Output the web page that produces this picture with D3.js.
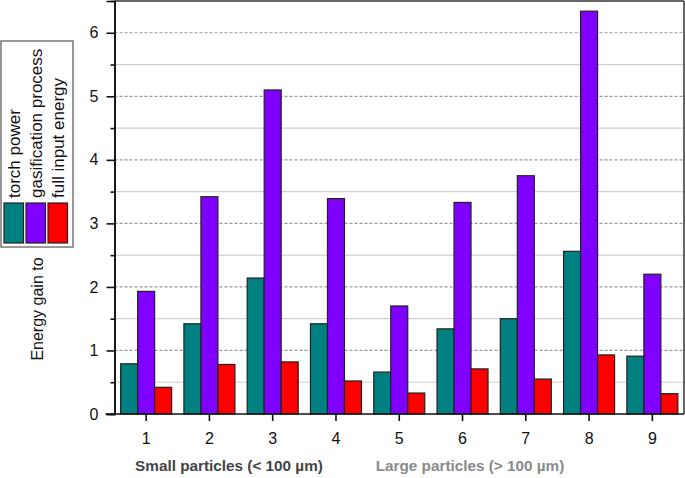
<!DOCTYPE html>
<html><head><meta charset="utf-8">
<script src="https://cdn.jsdelivr.net/npm/d3@7"></script>
<style>
html,body{margin:0;padding:0;background:#fff;}
svg{display:block;font-family:"Liberation Sans",Arial,sans-serif;}
</style></head>
<body>
<svg id="c" width="685" height="478"></svg>
<script>
const categories = ["1","2","3","4","5","6","7","8","9"];
const seriesNames = ["torch power","gasification process","full input energy"];
const seriesColors = ["#008080","#8000FF","#FF0000"];
const torchPower = [0.79,1.42,2.14,1.42,0.66,1.34,1.50,2.56,0.91];
const gasification = [1.93,3.42,5.10,3.39,1.70,3.33,3.75,6.34,2.20];
const fullInput = [0.42,0.78,0.82,0.52,0.33,0.71,0.55,0.93,0.32];
const yMajorTicks = [0,1,2,3,4,5,6];
const yMinorTicks = [0.5,1.5,2.5,3.5,4.5,5.5];
const groupLabels = ["Small particles (< 100 \u00b5m)","Large particles (> 100 \u00b5m)"];
const yTitle = "Energy gain to";

const series = [torchPower, gasification, fullInput];
const svg = d3.select("#c");
const L = 114.5, R = 684, T = 1, B = 414;

const x = d3.scaleBand().domain(categories).range([L, R]).padding(0);
const x1 = d3.scaleBand().domain(seriesNames).range([-25.5, 25.5]);
const y = d3.scaleLinear().domain([0, 6.5]).range([B, T]);

// minor grid
svg.append("g").selectAll("line").data(yMinorTicks).join("line")
  .attr("x1", L).attr("x2", R).attr("y1", d => y(d)).attr("y2", d => y(d))
  .attr("stroke", "#cfcfcf").attr("stroke-width", 1.2);
// major grid
svg.append("g").selectAll("line").data(yMajorTicks.filter(d => d > 0)).join("line")
  .attr("x1", L).attr("x2", R).attr("y1", d => y(d)).attr("y2", d => y(d))
  .attr("stroke", "#9a9a9a").attr("stroke-width", 1.2).attr("stroke-dasharray", "3,2");

// bars
const groups = svg.append("g").selectAll("g").data(categories).join("g")
  .attr("transform", d => `translate(${x(d) + x.bandwidth()/2},0)`);
groups.selectAll("rect").data((d, i) => seriesNames.map((s, k) => ({s, k, v: series[k][i]}))).join("rect")
  .attr("x", d => x1(d.s))
  .attr("width", x1.bandwidth())
  .attr("y", d => y(d.v))
  .attr("height", d => y(0) - y(d.v))
  .attr("fill", d => seriesColors[d.k])
  .attr("stroke", "#222").attr("stroke-width", 1.2);

// frame top/right
svg.append("line").attr("x1", L).attr("x2", R).attr("y1", T).attr("y2", T).attr("stroke", "#333").attr("stroke-width", 1.5);
svg.append("line").attr("x1", R).attr("x2", R).attr("y1", T).attr("y2", B).attr("stroke", "#333").attr("stroke-width", 1.5);

// y axis
const yAx = svg.append("g").attr("transform", `translate(${L},0)`)
  .call(d3.axisLeft(y).tickValues(yMajorTicks).tickSize(8).tickPadding(8).tickFormat(d3.format("d")));
const yMin = svg.append("g").attr("transform", `translate(${L},0)`)
  .call(d3.axisLeft(y).tickValues(yMinorTicks).tickSize(4).tickFormat(""));
[yAx, yMin].forEach(g => {
  g.select(".domain").attr("stroke", "#111").attr("stroke-width", 1.6);
  g.selectAll(".tick line").attr("stroke", "#111").attr("stroke-width", 1.6);
});
yAx.selectAll("text").attr("font-size", 16).attr("fill", "#111").attr("font-family", "Liberation Sans, Arial, sans-serif");

// x axis
const xAx = svg.append("g").attr("transform", `translate(0,${B})`)
  .call(d3.axisBottom(x).tickSize(7).tickPadding(12).tickSizeOuter(0));
xAx.select(".domain").attr("stroke", "#111").attr("stroke-width", 1.6).attr("d", `M${L - 9},0H${R}`);
xAx.selectAll(".tick line").attr("stroke", "#111").attr("stroke-width", 1.6);
xAx.selectAll("text").attr("font-size", 16).attr("fill", "#111").attr("font-family", "Liberation Sans, Arial, sans-serif");

// group labels
const glX = [229, 470];
const glColor = ["#444", "#8a8a8a"];
svg.append("g").selectAll("text").data(groupLabels).join("text")
  .attr("x", (d, i) => glX[i]).attr("y", 471)
  .attr("text-anchor", "middle").attr("font-weight", "bold").attr("font-size", 15.3)
  .attr("fill", (d, i) => glColor[i]).text(d => d);

// y title
svg.append("text").attr("transform", "translate(43,309) rotate(-90)")
  .attr("text-anchor", "middle").attr("font-size", 16).attr("fill", "#111").text(yTitle);

// legend
const lg = svg.append("g");
lg.append("rect").attr("x", 1).attr("y", 41).attr("width", 72).attr("height", 206)
  .attr("fill", "#fff").attr("stroke", "#777").attr("stroke-width", 1.5);
const swX = [4, 26, 48];
seriesNames.forEach((s, k) => {
  lg.append("rect").attr("x", swX[k]).attr("y", 203).attr("width", 19.5).attr("height", 40)
    .attr("fill", seriesColors[k]).attr("stroke", "#222").attr("stroke-width", 1.2);
  lg.append("text").attr("transform", `translate(${swX[k] + 15.5},198) rotate(-90)`)
    .attr("font-size", 17).attr("fill", "#111").text(s);
});
</script>
</body></html>
